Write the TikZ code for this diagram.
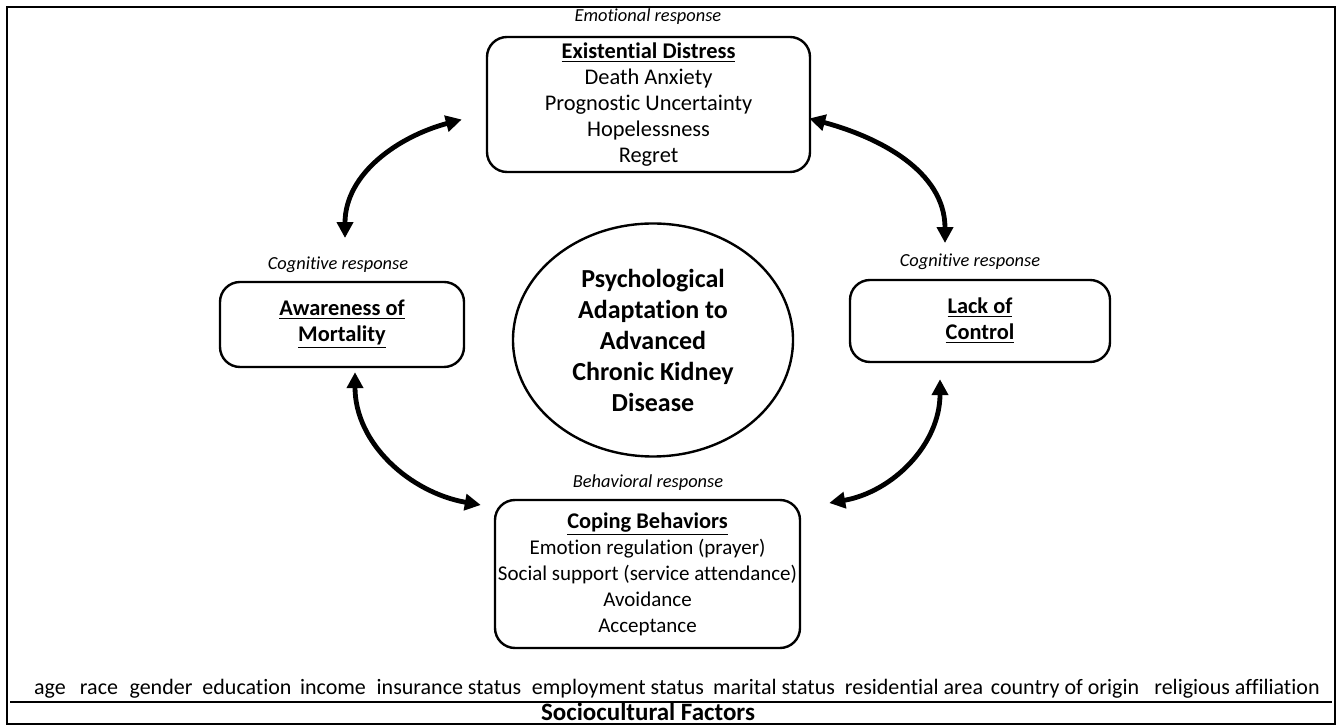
\documentclass[tikz,border=0pt]{standalone}
\usepackage{fontspec}
\setmainfont{Carlito}[Ligatures=NoCommon]
\usetikzlibrary{arrows.meta, positioning, shapes.geometric, calc}

\begin{document}
\begin{tikzpicture}[x=0.5pt, y=0.5pt,
        stage/.style={rectangle, rounded corners=10pt, draw, line width=1.2pt,
                      align=center, font=\fontsize{11.2}{13}\selectfont,
                      inner sep=0pt},
        resp/.style={font=\fontsize{9.2}{11}\selectfont\itshape},
        factor/.style={font=\fontsize{11}{13}\selectfont, inner sep=0pt, anchor=base},
        link/.style={{Triangle[length=8pt,width=8pt]}-{Triangle[length=8pt,width=8pt]},
                     line width=2.4pt},
      ]
        \useasboundingbox (0,0) rectangle (1342,727);
        \draw[line width=1.2pt] (7,3) rectangle (1335,720);

        % centre
        \node[ellipse, draw, line width=1.2pt, minimum width=140pt, minimum height=116.5pt,
              align=center, font=\fontsize{13}{15.5}\selectfont\bfseries] (core)
          at (653,387) {Psychological\\Adaptation to\\Advanced\\Chronic Kidney\\Disease};

        % four responses
        \node[stage, minimum width=161.5pt, minimum height=67.5pt] (exist)
          at (648.5,622.5) {\underline{\textbf{Existential Distress}}\\Death Anxiety\\
            Prognostic Uncertainty\\Hopelessness\\Regret};
        \node[resp] (emolab) at (648,710) {Emotional response};

        \node[stage, minimum width=122pt, minimum height=42.5pt] (aware)
          at (342,402.5) {\underline{\textbf{Awareness of}}\\\underline{\textbf{Mortality}}};
        \node[resp] (coglab) at (338,462) {Cognitive response};

        \node[stage, minimum width=130pt, minimum height=41pt] (lack)
          at (980,406) {\underline{\textbf{Lack of}}\\\underline{\textbf{Control}}};
        \node[resp] (cogrlab) at (970,465) {Cognitive response};

        \node[stage, minimum width=152.5pt, minimum height=74pt,
              font=\fontsize{10.5}{13}\selectfont] (coping)
          at (647.5,153) {\underline{\textbf{\fontsize{11.2}{13}\selectfont Coping Behaviors}}\\
            Emotion regulation (prayer)\\Social support (service attendance)\\
            Avoidance\\Acceptance};
        \node[resp] (behlab) at (648,244) {Behavioral response};

        % cycle
        \draw[link] ($(coglab.north)+(7,12)$) to[out=90, in=195] ($(exist.west)+(-24,-15)$);
        \draw[link] ($(cogrlab.north)+(-25,4)$) to[out=90, in=-15] ($(exist.east)+(-2,-14)$);
        \draw[link] ($(aware.south)+(13,-4)$) to[out=-90, in=170] ($(coping.west)+(-13,69)$);
        \draw[link] ($(lack.south)+(-40,-16)$) to[out=-90, in=10] ($(coping.east)+(28,71)$);

        % sociocultural factors
        \foreach \x/\f in {50/age, 99/race, 161/gender, 247/education, 333/income,
                           449/insurance status, 618/employment status, 774/marital status,
                           914/residential area, 1065/country of origin,
                           1237/religious affiliation}
          \node[factor] at (\x,32) {\f};
        \draw[line width=1.2pt] (10,25) -- (1332,25);
        \node[font=\fontsize{12.5}{14}\selectfont\bfseries] (socio) at (648,15) {Sociocultural Factors};
      \end{tikzpicture}
\end{document}
